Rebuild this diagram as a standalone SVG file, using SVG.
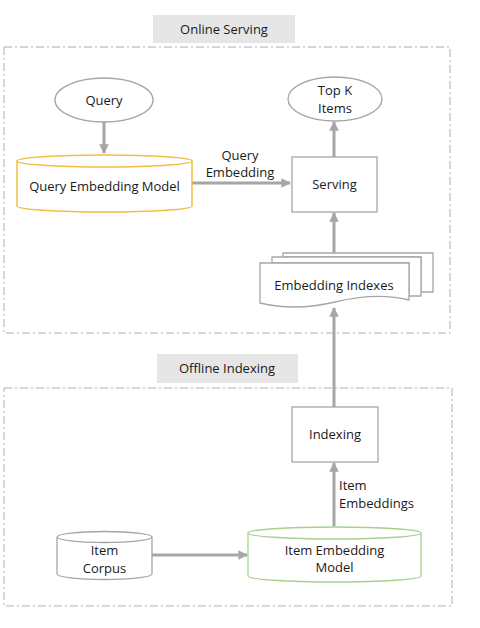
<svg xmlns="http://www.w3.org/2000/svg" width="480" height="628" viewBox="0 0 480 628">
<defs>
<marker id="ah" viewBox="0 0 10 10" refX="9" refY="5" markerWidth="3.2" markerHeight="3.2" orient="auto" markerUnits="strokeWidth">
<path d="M0,0 L10,5 L0,10 z" fill="#a6a6a6"/>
</marker>
<style>
text{font-family:"Open Sans","Liberation Sans",sans-serif;font-size:13px;fill:#1a1a1a;text-anchor:middle;dominant-baseline:central}
.cont{fill:none;stroke:#b0b0b0;stroke-width:1;stroke-dasharray:8 3 2 3}
.lbl{fill:#e6e6e6}
.node{fill:#fff;stroke:#a6a6a6;stroke-width:1.3}
.yel{fill:#fff;stroke:#f2c040;stroke-width:1.5}
.grn{fill:#fff;stroke:#a9d18e;stroke-width:1.3}
.edge{fill:none;stroke:#a6a6a6;stroke-width:3;marker-end:url(#ah)}
</style>
</defs>
<rect width="480" height="628" fill="#fff"/>
<g id="online-serving">
<rect class="lbl" x="153" y="15" width="142" height="28"/>
<text x="224" y="29">Online Serving</text>
<rect class="cont" x="4" y="47" width="446" height="286"/>
</g>
<g id="offline-indexing">
<rect class="lbl" x="157" y="354" width="141" height="29"/>
<text x="227" y="368">Offline Indexing</text>
<rect class="cont" x="4" y="388" width="448" height="218"/>
</g>
<g id="edges">
<path class="edge" d="M104,122 V153"/>
<path class="edge" d="M192,183 H290"/>
<path class="edge" d="M334,157 V122"/>
<path class="edge" d="M334,253 V213"/>
<path class="edge" d="M334,407 V308"/>
<path class="edge" d="M334,526 V463"/>
<path class="edge" d="M152,555 H247"/>
<text x="240" y="155">Query</text>
<text x="240" y="172">Embedding</text>
<text x="339" y="485" style="text-anchor:start">Item</text>
<text x="339" y="503" style="text-anchor:start">Embeddings</text>
</g>
<g id="query">
<ellipse class="node" cx="104" cy="100" rx="49" ry="22"/>
<text x="104" y="100">Query</text>
</g>
<g id="top-k">
<ellipse class="node" cx="335" cy="99" rx="47" ry="22"/>
<text x="335" y="90">Top K</text>
<text x="335" y="108">Items</text>
</g>
<g id="query-embedding-model">
<path class="yel" d="M17,161 V206 A87.5,6 0 0 0 192,206 V161"/>
<ellipse class="yel" cx="104.5" cy="161" rx="87.5" ry="6"/>
<text x="104.5" y="186">Query Embedding Model</text>
</g>
<g id="serving">
<rect class="node" x="292" y="157" width="85" height="55"/>
<text x="334.5" y="184">Serving</text>
</g>
<g id="embedding-indexes">
<path class="node" d="M283,253 H433 V292 H421 V257 H283 z"/>
<path class="node" d="M272,257 H421 V296 H409 V263 H272 z"/>
<path class="node" d="M260,263 H409 V300 C385,294 360,296 335,302 C310,308 285,309 260,303 z"/>
<text x="334" y="285">Embedding Indexes</text>
</g>
<g id="indexing">
<rect class="node" x="292" y="407" width="86" height="55"/>
<text x="335" y="434">Indexing</text>
</g>
<g id="item-corpus">
<path class="node" d="M57,537 V574 A47.5,5.5 0 0 0 152,574 V537"/>
<ellipse class="node" cx="104.5" cy="537" rx="47.5" ry="5.5"/>
<text x="104.5" y="550">Item</text>
<text x="104.5" y="568">Corpus</text>
</g>
<g id="item-embedding-model">
<path class="grn" d="M248,533 V576 A86.5,6 0 0 0 421,576 V533"/>
<ellipse class="grn" cx="334.5" cy="533" rx="86.5" ry="6"/>
<text x="334.5" y="550">Item Embedding</text>
<text x="334.5" y="567">Model</text>
</g>
</svg>
